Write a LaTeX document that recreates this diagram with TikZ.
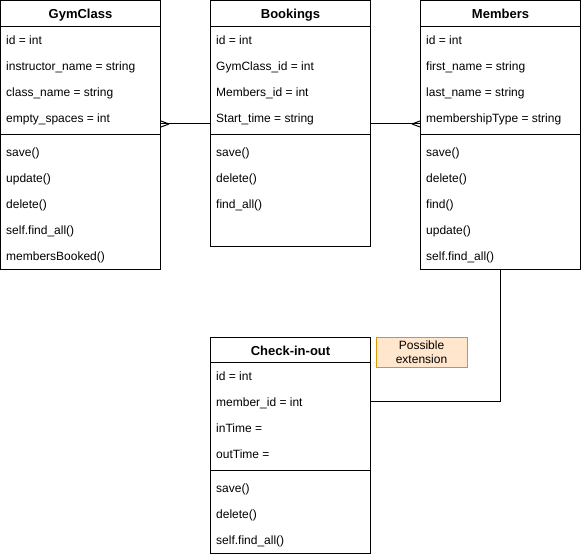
\documentclass[tikz,border=0pt]{standalone}
\usepackage{fontspec}
\setmainfont{Liberation Sans}
\usetikzlibrary{calc}
\definecolor{notefill}{HTML}{FFE6CC}
\definecolor{notedraw}{HTML}{D79B00}
\tikzset{
  classbox/.style={draw, line width=1pt, anchor=north west, inner sep=0pt, minimum width=160pt},
  title/.style={anchor=base, font=\fontsize{13}{15}\selectfont\bfseries, inner sep=0pt},
  row/.style={anchor=base west, inner sep=0pt, font=\fontsize{12}{14}\selectfont},
  sepline/.style={line width=1pt},
  conn/.style={line width=1pt},
  notebox/.style={draw=notedraw, fill=notefill, line width=1pt, anchor=north west, minimum width=91pt, minimum height=30pt, inner sep=0pt, align=center, font=\fontsize{12}{13.5}\selectfont}
}
\begin{document}
\begin{tikzpicture}[x=1pt,y=-1pt]
\useasboundingbox (0,0) rectangle (581,556);

% ---------- GymClass ----------
\node[classbox, minimum height=268pt] (gym) at (0,0.5) {};
\node[title] (gymt) at ($(gym.north)+(0,18.5)$) {GymClass};
\draw[sepline] ($(gym.north west)+(0,26)$) -- ($(gym.north east)+(0,26)$);
\foreach \t [count=\i] in {id = int, instructor\_name = string, class\_name = string, empty\_spaces = int}
  \node[row] (gyma\i) at ($(gym.north west)+(6,18+26*\i)$) {\t};
\draw[sepline] ($(gym.north west)+(0,134)$) -- ($(gym.north east)+(0,134)$);
\foreach \t [count=\i] in {save(), update(), delete(), self.find\_all(), membersBooked()}
  \node[row] (gymm\i) at ($(gym.north west)+(6,130+26*\i)$) {\t};

% ---------- Bookings ----------
\node[classbox, minimum height=246pt] (book) at (210,0.5) {};
\node[title] (bookt) at ($(book.north)+(0,18.5)$) {Bookings};
\draw[sepline] ($(book.north west)+(0,26)$) -- ($(book.north east)+(0,26)$);
\foreach \t [count=\i] in {id = int, GymClass\_id = int, Members\_id = int, Start\_time = string}
  \node[row] (booka\i) at ($(book.north west)+(6,18+26*\i)$) {\t};
\draw[sepline] ($(book.north west)+(0,134)$) -- ($(book.north east)+(0,134)$);
\foreach \t [count=\i] in {save(), delete(), find\_all()}
  \node[row] (bookm\i) at ($(book.north west)+(6,130+26*\i)$) {\t};

% ---------- Members ----------
\node[classbox, minimum height=268pt] (mem) at (420,0.5) {};
\node[title] (memt) at ($(mem.north)+(0,18.5)$) {Members};
\draw[sepline] ($(mem.north west)+(0,26)$) -- ($(mem.north east)+(0,26)$);
\foreach \t [count=\i] in {id = int, first\_name = string, last\_name = string, membershipType = string}
  \node[row] (mema\i) at ($(mem.north west)+(6,18+26*\i)$) {\t};
\draw[sepline] ($(mem.north west)+(0,134)$) -- ($(mem.north east)+(0,134)$);
\foreach \t [count=\i] in {save(), delete(), find(), update(), self.find\_all()}
  \node[row] (memm\i) at ($(mem.north west)+(6,130+26*\i)$) {\t};

% ---------- Check-in-out ----------
\node[classbox, minimum height=216pt] (chk) at (210,336.5) {};
\node[title] (chkt) at ($(chk.north)+(0,18.5)$) {Check-in-out};
\draw[sepline] ($(chk.north west)+(0,26)$) -- ($(chk.north east)+(0,26)$);
\foreach \t [count=\i] in {id = int, member\_id = int, inTime =, outTime =}
  \node[row] (chka\i) at ($(chk.north west)+(6,18+26*\i)$) {\t};
\draw[sepline] ($(chk.north west)+(0,134)$) -- ($(chk.north east)+(0,134)$);
\foreach \t [count=\i] in {save(), delete(), self.find\_all()}
  \node[row] (chkm\i) at ($(chk.north west)+(6,130+26*\i)$) {\t};

% ---------- Note ----------
\node[notebox] (note) at (375.5,336.5) {Possible\\extension};

% ---------- Connectors ----------
\coordinate (g1) at ($(gym.north east)+(0,123.5)$);
\coordinate (b1) at ($(book.north west)+(0,123.5)$);
\coordinate (b2) at ($(book.north east)+(0,123.5)$);
\coordinate (m1) at ($(mem.north west)+(0,123.5)$);
\draw[conn] (g1) -- (b1);
\draw[conn] ($(g1)+(8,0)$) -- ($(g1)+(0,-3)$) ($(g1)+(8,0)$) -- ($(g1)+(0,3)$);
\draw[conn] (b2) -- (m1);
\draw[conn] ($(m1)+(-8,0)$) -- ($(m1)+(0,-3)$) ($(m1)+(-8,0)$) -- ($(m1)+(0,3)$);

\coordinate (c1) at ($(chk.north east)+(0,65)$);
\draw[conn] (mem.south) |- (c1);
\end{tikzpicture}
\end{document}
